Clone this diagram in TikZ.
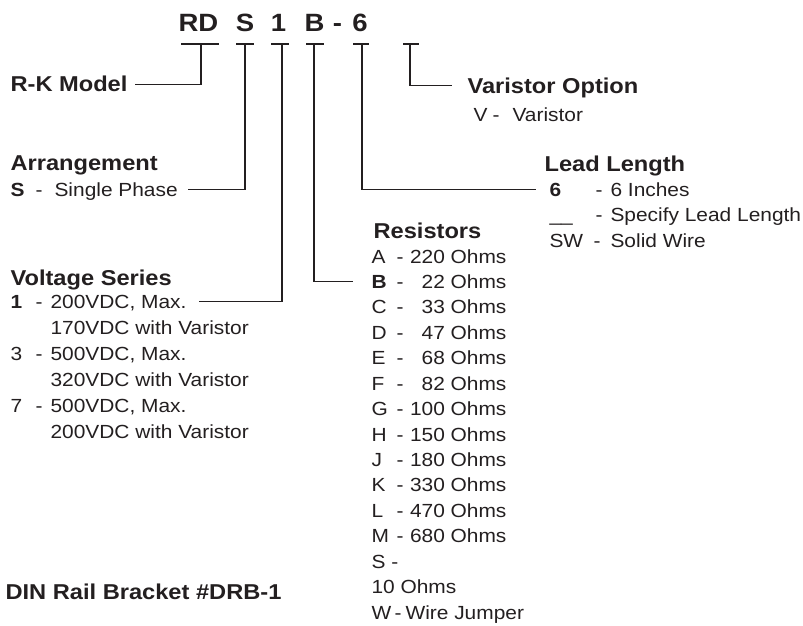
\documentclass[tikz,border=0pt]{standalone}
\usepackage{fontspec}
\setmainfont{Liberation Sans}[FakeStretch=1.1]
\definecolor{ink}{HTML}{231F20}
\newcommand\bodyfont{\fontsize{19}{22}\selectfont}
\newcommand\headfont{\fontsize{21.5}{25}\selectfont\bfseries}
\newcommand\codefont{\fontsize{25}{28}\selectfont\bfseries}

\begin{document}
\begin{tikzpicture}[
  x=1pt, y=-1pt, line width=1.1pt, color=ink,
  txt/.style={anchor=base west, inner sep=0pt, font=\bodyfont, text height=13pt, text depth=0pt},
  hd/.style={anchor=base west, inner sep=0pt, font=\headfont, text height=15.5pt, text depth=0pt},
  code/.style={anchor=base, inner sep=0pt, font=\codefont},
]
\useasboundingbox (0,0) rectangle (803,626);

% Model code
\foreach \n/\x/\t in {RD/198.5/RD, S/245/S, 1/278.5/1, B/314.5/B, dash/337.5/-, 6/360/6} {
  \node[code] (c\n) at (\x,32) {\t};
}

% Tee marks under the code
\foreach \n/\x/\l/\r in {RD/201/20/18, S/245/9/9, 1/282/11/7, B/314/8/10, 6/362/9/7, V/410/7/9} {
  \coordinate (j\n) at (\x,44);
  \draw ([xshift=-\l pt]j\n) -- ([xshift=\r pt]j\n);
}

% R-K Model
\node[hd] (rk) at (10,92) {R-K Model};
\draw (jRD) |- ([xshift=7pt]rk.east);

% Arrangement
\node[hd] (arr) at (10,170) {Arrangement};
\node[txt, font=\bodyfont\bfseries] (arrS) at (10,196) {S};
\node[txt] (arrSdash) at (35,196) {-};
\node[txt] (arrSval) at (54,196) {Single Phase};
\draw (jS) |- ([xshift=10pt]arrSval.east);

% Voltage series
\node[hd] (volt) at (10,285) {Voltage Series};
\foreach \v/\y/\a/\b/\f in {1/308/200/170/\bfseries, 3/360/500/320/\mdseries, 7/412/500/200/\mdseries} {
  \node[txt, font=\bodyfont\f] (v\v) at (10,\y) {\v};
  \node[txt] (v\v dash) at (35,\y) {-};
  \node[txt] (v\v max) at (50,\y) {\a VDC, Max.};
  \node[txt] (v\v var) at (50,\y+26) {\b VDC with Varistor};
}
\draw (j1) |- ([xshift=12pt]v1max.east);

% Resistors
\node[hd] (res) at (373,238) {Resistors};
\foreach \l/\v/\f [count=\i from 0] in {A/220/\mdseries, B/22/\bfseries, C/33/\mdseries, D/47/\mdseries,
    E/68/\mdseries, F/82/\mdseries, G/100/\mdseries, H/150/\mdseries, J/180/\mdseries,
    K/330/\mdseries, L/470/\mdseries, M/680/\mdseries} {
  \pgfmathsetmacro\y{263+25.43*\i}
  \node[txt, font=\bodyfont\f] (r\l) at (371,\y) {\l};
  \node[txt] (r\l dash) at (396,\y) {-};
  \node[txt, anchor=base east] (r\l val) at (507,\y) {\v\ Ohms};
}
\node[txt] (rS) at (371,568.2) {S -};
\node[txt] (rSval) at (371,593.6) {10 Ohms};
\node[txt] (rW) at (371,619) {W};
\node[txt] (rWdash) at (394,619) {-};
\node[txt] (rWval) at (405,619) {Wire Jumper};
\draw (jB) |- ([xshift=-18pt]rB.west);

% Lead length
\node[hd] (lead) at (544,171) {Lead Length};
\node[txt, font=\bodyfont\bfseries] (l6) at (549,196) {6};
\node[txt] (l6dash) at (595,196) {-};
\node[txt] (l6val) at (610,196) {6 Inches};
\node[txt] (lU) at (549,221) {\_\_};
\node[txt] (lUdash) at (595,221) {-};
\node[txt] (lUval) at (610,221) {Specify Lead Length};
\node[txt] (lSW) at (549,247) {SW};
\node[txt] (lSWdash) at (593,247) {-};
\node[txt] (lSWval) at (610,247) {Solid Wire};
\draw (j6) |- ([xshift=-13pt]l6.west);

% Varistor option
\node[hd] (var) at (467,93) {Varistor Option};
\node[txt] (vV) at (473,121) {V};
\node[txt] (vVdash) at (492,121) {-};
\node[txt] (vVval) at (512,121) {Varistor};
\draw (jV) |- ([xshift=-15pt]var.west);

% Bracket
\node[hd] (din) at (5,599) {DIN Rail Bracket \#DRB-1};

\end{tikzpicture}
\end{document}
